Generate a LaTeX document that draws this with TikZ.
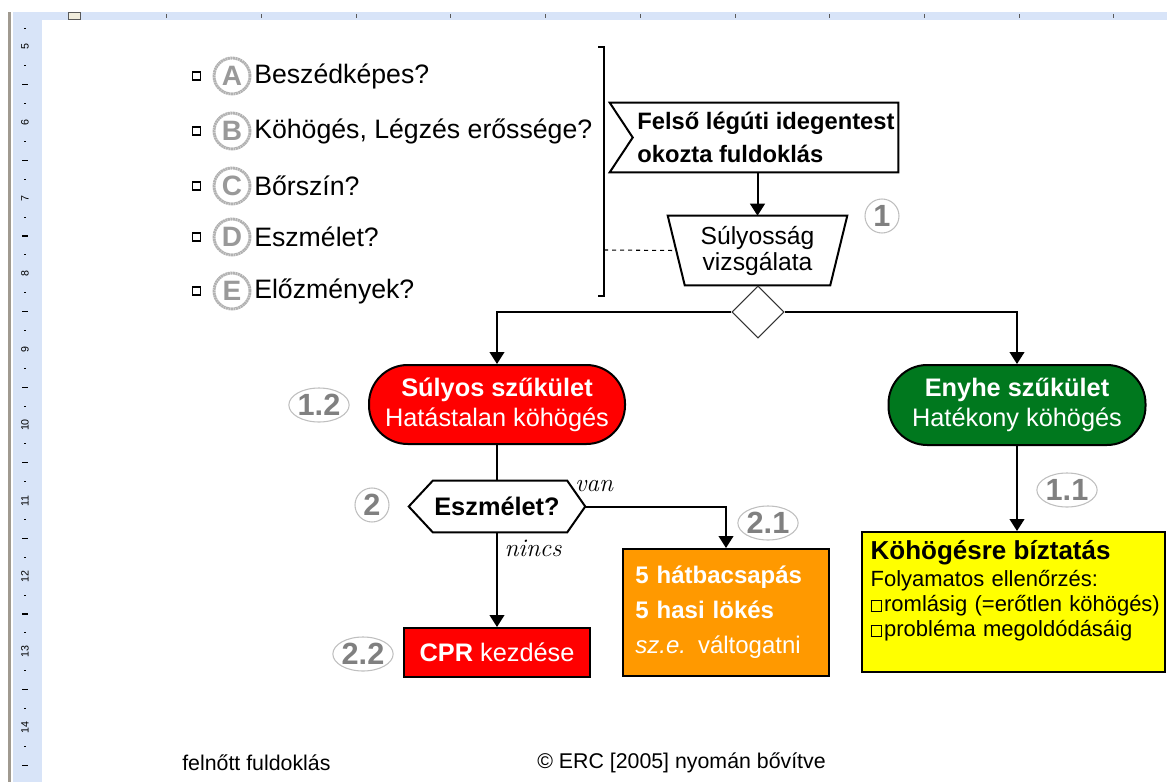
\documentclass[tikz,border=0pt]{standalone}
\usepackage{fontspec}
\newfontfamily\arial{Liberation Sans}
\usetikzlibrary{shapes.geometric,arrows.meta,calc}
\definecolor{rulerblue}{RGB}{216,228,248}
\definecolor{rulergray}{RGB}{160,154,144}
\definecolor{markbeige}{RGB}{240,236,220}
\definecolor{pillred}{RGB}{255,0,0}
\definecolor{pillgreen}{RGB}{0,120,30}
\definecolor{boxorange}{RGB}{255,153,0}
\definecolor{boxyellow}{RGB}{255,255,0}
\definecolor{labgray}{RGB}{128,128,128}
\newcommand\fsz[2]{\fontsize{#1}{#2}\selectfont}
\newcommand\sqbox{\raisebox{0.05em}{\setlength\fboxsep{0pt}\setlength\fboxrule{0.7pt}\fbox{\rule{0pt}{0.45em}\hspace{0.45em}}}\hspace{0.08em}}
\begin{document}
\begin{tikzpicture}[x=0.75pt,y=-0.75pt,
  every node/.style={font=\arial},
  conn/.style={line width=1.5pt},
  arr/.style={conn,-{Triangle[width=11pt,length=9pt]}},
  shp/.style={line width=1.5pt},
  frame/.style={rectangle,inner sep=0pt},
  pill/.style={rectangle,rounded corners=29pt,draw=black,line width=1.5pt,text=white,align=center,font=\arial\fsz{19}{22.5}},
  boxnode/.style={rectangle,draw=black,line width=1.5pt},
  numc/.style={circle,draw=gray!50,line width=0.8pt,text=labgray,font=\arial\bfseries\fsz{23}{23},minimum size=25.5pt,inner sep=0pt},
  nume/.style={ellipse,draw=gray!50,line width=0.8pt,text=labgray,font=\arial\bfseries\fsz{23}{23},minimum width=39pt,minimum height=25.5pt,inner sep=0pt},
  letc/.style={circle,draw=gray!60,line width=2.2pt,dash pattern=on 1.5pt off 0.4pt,fill=white,text=gray!80,font=\arial\bfseries\fsz{21}{21},minimum size=27pt,inner sep=0pt},
  bul/.style={rectangle,draw=black,line width=0.9pt,minimum size=6pt,inner sep=0pt,fill=white},
  item/.style={anchor=west,inner sep=0pt,font=\arial\fsz{20}{22}},
  lab/.style={font=\normalfont\itshape\fsz{19}{20}},
  foot/.style={anchor=west,inner sep=0pt,font=\arial\fsz{16}{18}}
]
\useasboundingbox (0,0) rectangle (1167,782);
% ---- ruler ----
\fill[rulerblue] (13,12) rectangle (1167,20);
\fill[rulerblue] (13,12) rectangle (42,782);
\fill[rulergray] (8,12) rectangle (11,782);
\draw[fill=markbeige,draw=gray!70!black,line width=0.6pt] (68,12) rectangle (80,19);
\foreach \k in {1,...,11}{
  \draw[gray!70!black,line width=0.6pt] ({72+94.7*\k},14) -- ++(0,4);
}
\foreach \n in {5,...,14}{
  \node[rotate=90,inner sep=0pt,font=\arial\fsz{8}{9}] (rn\n) at (25,{47+75.6*(\n-5)}) {\n};
}
\foreach \j in {-1,...,38}{
  \pgfmathtruncatemacro\rr{mod(\j+40,4)}
  \ifnum\rr=2 \draw[line width=0.8pt] (22,{47+18.9*\j}) -- (28,{47+18.9*\j});\fi
  \ifodd\rr \draw[line width=0.8pt] (24,{47+18.9*\j}) -- (26,{47+18.9*\j});\fi
}
% ---- checklist ----
\node[bul] (bA) at (196.5,76) {};
\node[letc] (cA) at (232,76) {A};
\node[item] (tA) at (254,76) {Beszédképes?};
\node[bul] (bB) at (196.5,131) {};
\node[letc] (cB) at (232,131) {B};
\node[item] (tB) at (254,131) {Köhögés, Légzés erőssége?};
\node[bul] (bC) at (196.5,186) {};
\node[letc] (cC) at (232,186) {C};
\node[item] (tC) at (254,186) {Bőrszín?};
\node[bul] (bD) at (196.5,237) {};
\node[letc] (cD) at (232,237) {D};
\node[item] (tD) at (254,237) {Eszmélet?};
\node[bul] (bE) at (196.5,291) {};
\node[letc] (cE) at (232,291) {E};
\node[item] (tE) at (254,291) {Előzmények?};
\draw[line width=1pt] (598,47) -- (604,47) -- (604,296) -- (598,296);
\coordinate (brk) at (604,250);
% ---- top node ----
\node[frame,minimum width=216pt,minimum height=51.75pt] (top) at (754,137.5) {};
\draw[shp,fill=white] (top.north west) -- (top.north east) -- (top.south east) -- (top.south west) -- ([xshift=17.25pt]top.west) -- cycle;
\node[anchor=west,inner sep=0pt,align=left,font=\arial\bfseries\fsz{17.8}{24.75}] (toptext) at ([xshift=20.5pt]top.west) {Felső légúti idegentest\\okozta fuldoklás};
% ---- severity ----
\node[frame,minimum width=134.25pt,minimum height=51.75pt,align=center,font=\arial\fsz{18.5}{19.5}] (sul) at (757.5,250.5) {Súlyosság\\vizsgálata};
\draw[shp] (sul.north west) -- (sul.north east) -- ([xshift=-12.75pt]sul.south east) -- ([xshift=12.75pt]sul.south west) -- cycle;
\draw[arr] (sul.north |- top.south) -- (sul.north);
\draw[dashed,line width=0.8pt] (brk) -- ([xshift=6.4pt]sul.west);
\node[numc] (n1) at (882,216) {1};
\node[diamond,draw=black!80,line width=0.8pt,minimum width=39pt,minimum height=39pt,inner sep=0pt,fill=white] (dia) at (758,312) {};
% ---- branches ----
\node[pill,fill=pillred,minimum width=192pt,minimum height=59.25pt] (red) at (497,404.5) {\textbf{Súlyos szűkület}\\Hatástalan köhögés};
\node[pill,fill=pillgreen,minimum width=192.75pt,minimum height=60pt] (green) at (1017,405) {\textbf{Enyhe szűkület}\\Hatékony köhögés};
\draw[arr] (dia.west) -| (red.north);
\draw[arr] (dia.east) -| (green.north);
\node[nume] (n12) at (319,405) {1.2};
\node[nume] (n11) at (1067,490) {1.1};
% ---- consciousness ----
\node[frame,minimum width=132pt,minimum height=38.25pt,font=\arial\bfseries\fsz{19}{20}] (esz) at (497,506.5) {Eszmélet?};
\draw[shp] (esz.west) -- ([xshift=18pt]esz.north west) -- ([xshift=-13.5pt]esz.north east) -- (esz.east) -- ([xshift=-13.5pt]esz.south east) -- ([xshift=18pt]esz.south west) -- cycle;
\draw[conn] (red.south) -- (esz.north);
\node[numc] (n2) at (372,505) {2};
% ---- actions ----
\node[boxnode,fill=boxorange,minimum width=154.5pt,minimum height=95.25pt,text width=136pt,align=left,text=white,font=\arial\bfseries\fsz{18}{26.25}] (ora) at (726,612.5) {5 hátbacsapás\\5 hasi lökés\\{\mdseries\textit{sz.e.} váltogatni}};
\node[boxnode,fill=pillred,minimum width=139.5pt,minimum height=36.75pt,text=white,font=\arial\fsz{19}{20}] (cpr) at (497,652.5) {\textbf{CPR} kezdése};
\draw[arr] (esz.south) -- (cpr.north);
\draw[arr] (esz.east) -| (ora.north);
\node[lab] (van) at (594,486) {van};
\node[lab] (nincs) at (533,548) {nincs};
\node[nume] (n21) at (768,523) {2.1};
\node[nume] (n22) at (363,654) {2.2};
% ---- yellow ----
\node[boxnode,fill=boxyellow,minimum width=227.25pt,minimum height=105pt] (yel) at (1013.5,602) {};
\node[anchor=north west,inner sep=0pt,align=left,text width=220pt,font=\arial\fsz{16.5}{18.75}] (yeltext) at ([xshift=7pt,yshift=-7pt]yel.north west) {{\bfseries\fsz{19.5}{20}Köhögésre bíztatás}\\[1.5pt]Folyamatos ellenőrzés:\\\sqbox romlásig (=erőtlen köhögés)\\\sqbox probléma megoldódásáig};
\draw[arr] (green.south) -- (green.south |- yel.north);
% ---- footer ----
\node[foot] (f1) at (182,763) {felnőtt fuldoklás};
\node[foot] (f2) at (537,763) {© ERC [2005] nyomán bővítve};
\end{tikzpicture}
\end{document}
